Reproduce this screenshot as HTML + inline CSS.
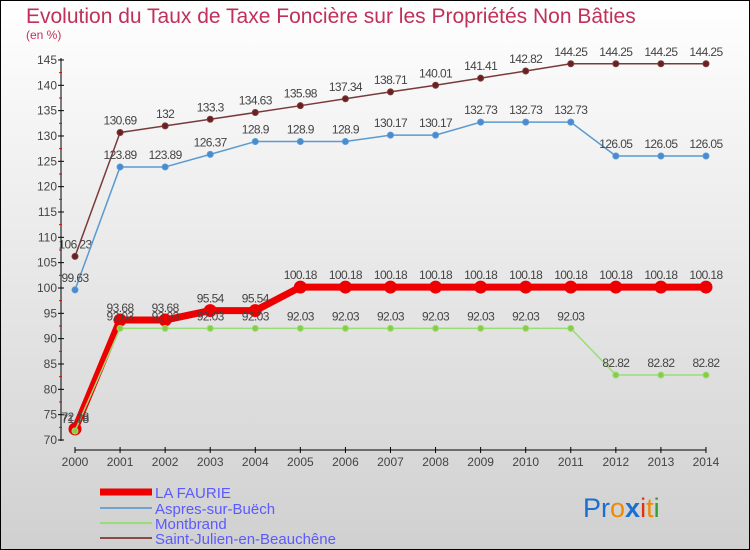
<!DOCTYPE html>
<html><head><meta charset="utf-8"><style>
body{margin:0;width:750px;height:550px;overflow:hidden}
svg{display:block}
text{font-family:"Liberation Sans","DejaVu Sans",sans-serif}
</style></head><body>
<svg id="c" width="750" height="550" xmlns="http://www.w3.org/2000/svg">
<defs><linearGradient id="bg" x1="0" y1="0" x2="0" y2="1"><stop offset="0" stop-color="#ffffff"/><stop offset="1" stop-color="#d0d0d0"/></linearGradient></defs>
<rect x="0.5" y="0.5" width="749" height="549" fill="url(#bg)" stroke="#000"/>
<text x="26" y="23" font-size="21" fill="#c0305a">Evolution du Taux de Taxe Foncière sur les Propriétés Non Bâties</text>
<text x="26" y="39" font-size="12" fill="#c0305a">(en %)</text>
<g id="axes"></g><g id="series"></g>
<g>
<line x1="100" y1="492" x2="152" y2="492" stroke="#e00" stroke-width="7"/>
<text x="155" y="498" font-size="15" fill="#5a5aff">LA FAURIE</text>
<line x1="100" y1="508" x2="152" y2="508" stroke="#6fa4cf" stroke-width="2"/>
<text x="155" y="514" font-size="15" fill="#5a5aff">Aspres-sur-Buëch</text>
<line x1="100" y1="523" x2="152" y2="523" stroke="#99dd77" stroke-width="2"/>
<text x="155" y="529" font-size="15" fill="#5a5aff">Montbrand</text>
<line x1="100" y1="538" x2="152" y2="538" stroke="#8b4a4a" stroke-width="2"/>
<text x="155" y="544" font-size="15" fill="#5a5aff">Saint-Julien-en-Beauchêne</text>
</g>
<text x="583" y="517" font-size="27"><tspan fill="#1a6fd0">Pr</tspan><tspan fill="#f08a00">o</tspan><tspan fill="#1a6fd0" font-weight="bold">x</tspan><tspan fill="#e03010">i</tspan><tspan fill="#f08a00">t</tspan><tspan fill="#30a030">i</tspan></text>
</svg>
<script>
const years=[2000,2001,2002,2003,2004,2005,2006,2007,2008,2009,2010,2011,2012,2013,2014];
const laFaurie=[72.18,93.68,93.68,95.54,95.54,100.18,100.18,100.18,100.18,100.18,100.18,100.18,100.18,100.18,100.18];
const aspres=[99.63,123.89,123.89,126.37,128.9,128.9,128.9,130.17,130.17,132.73,132.73,132.73,126.05,126.05,126.05];
const montbrand=[71.78,92.03,92.03,92.03,92.03,92.03,92.03,92.03,92.03,92.03,92.03,92.03,82.82,82.82,82.82];
const saintJulien=[106.23,130.69,132,133.3,134.63,135.98,137.34,138.71,140.01,141.41,142.82,144.25,144.25,144.25,144.25];
const yTicks=[70,75,80,85,90,95,100,105,110,115,120,125,130,135,140,145];
const NS="http://www.w3.org/2000/svg";
const xs=i=>75+i*45.07, ys=v=>440-(v-70)*5.067;
function mk(t,a,p){const e=document.createElementNS(NS,t);for(const k in a)e.setAttribute(k,a[k]);p.appendChild(e);return e;}
const ax=document.getElementById('axes');
let l=mk('line',{x1:61,y1:58,x2:61,y2:441,stroke:'#000'},ax);

l=mk('line',{x1:75,y1:450,x2:706,y2:450,stroke:'#000'},ax);

yTicks.forEach((v,i)=>{const y=ys(v);
mk('line',{x1:58,y1:y,x2:64,y2:y,stroke:'#000'},ax);
if(i<yTicks.length-1)mk('line',{x1:59,y1:ys(v+2.5),x2:62,y2:ys(v+2.5),stroke:'#e00'},ax);
const t=mk('text',{x:57,y:y+4,'font-size':12,fill:'#444','text-anchor':'end'},ax);t.textContent=v;
});
years.forEach((yr,i)=>{const x=xs(i);mk('line',{x1:x,y1:447,x2:x,y2:453,stroke:'#000'},ax);
const t=mk('text',{x:x,y:466,'font-size':12,fill:'#444','text-anchor':'middle'},ax);t.textContent=yr;
});
const sg=document.getElementById('series');
function series(d,name,col,w,r,dot){const g=mk('g',{},sg);

const p=mk('polyline',{points:d.map((v,i)=>xs(i)+','+ys(v)).join(' '),fill:'none',stroke:col,'stroke-width':w,'stroke-linejoin':'round'},g);

d.forEach((v,i)=>{const c=mk('circle',{cx:xs(i),cy:ys(v),r:r,fill:dot,stroke:col,'stroke-width':1},g);

const t=mk('text',{x:xs(i),y:ys(v)-8,'font-size':12,fill:'#444','text-anchor':'middle','letter-spacing':'-0.6'},g);
t.textContent=String(v);});}
series(saintJulien,'saint-julien','#7a3a3a',1.5,3,'#6a2020');
series(aspres,'aspres','#5a9ad0',1.5,3,'#4a8ad0');
series(laFaurie,'la-faurie','#e00',7,6,'#e00');
series(montbrand,'montbrand','#99dd77',1.5,3,'#88cc44');
</script>
</body></html>
